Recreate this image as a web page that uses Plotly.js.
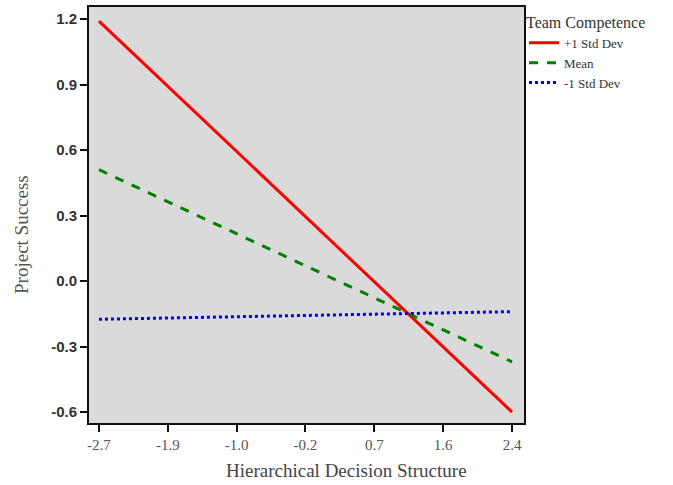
<!DOCTYPE html>
<html>
<head>
<meta charset="utf-8">
<script src="https://cdn.plot.ly/plotly-3.0.1.min.js"></script>
<style>html,body{margin:0;padding:0;background:#fff;}#chart{width:673px;height:485px;}</style>
</head>
<body>
<div id="chart"></div>
<script>
const xEnds = [-2.7, 2.4];
const plusOneSD = [1.19, -0.60];
const meanVals = [0.51, -0.37];
const minusOneSD = [-0.175, -0.14];
const seriesNames = ["+1 Std Dev", "Mean", "-1 Std Dev"];
const xTickVals = [-2.7, -1.85, -1.0, -0.15, 0.7, 1.55, 2.4];
const xTickText = ["-2.7", "-1.9", "-1.0", "-0.2", "0.7", "1.6", "2.4"];
const yTickVals = [-0.6, -0.3, 0.0, 0.3, 0.6, 0.9, 1.2];
const yTickText = ["-0.6", "-0.3", "0.0", "0.3", "0.6", "0.9", "1.2"];
const xTitle = "Hierarchical Decision Structure";
const yTitle = "Project Success";
const legendTitle = "Team Competence";

const serif = "Liberation Serif, Times New Roman, serif";
const traces = [
  {x: xEnds, y: plusOneSD, name: seriesNames[0], mode: "lines", line: {color: "#ff0000", width: 3, dash: "solid"}},
  {x: xEnds, y: meanVals, name: seriesNames[1], mode: "lines", line: {color: "#008000", width: 3, dash: "dash"}},
  {x: xEnds, y: minusOneSD, name: seriesNames[2], mode: "lines", line: {color: "#0000ee", width: 3, dash: "dot"}}
];
const layout = {
  width: 673, height: 485,
  margin: {l: 89, r: 149, t: 7, b: 62},
  paper_bgcolor: "#ffffff",
  plot_bgcolor: "#dadada",
  showlegend: true,
  legend: {
    x: 1.0, xanchor: "left", y: 1.0, yanchor: "top",
    bgcolor: "rgba(0,0,0,0)",
    font: {family: serif, size: 13, color: "#333"},
    title: {text: legendTitle, font: {family: serif, size: 16, color: "#333"}},
    tracegroupgap: 0, itemwidth: 30
  },
  xaxis: {
    range: [-2.823, 2.548],
    tickmode: "array", tickvals: xTickVals, ticktext: xTickText,
    ticks: "outside", ticklen: 7, tickwidth: 2, tickcolor: "#111",
    showline: true, linecolor: "#111", linewidth: 2, mirror: true,
    showgrid: false, zeroline: false,
    tickfont: {family: serif, size: 15, color: "#555"}
  },
  yaxis: {
    range: [-0.65, 1.255],
    tickmode: "array", tickvals: yTickVals, ticktext: yTickText,
    ticks: "outside", ticklen: 7, tickwidth: 2, tickcolor: "#111",
    showline: true, linecolor: "#111", linewidth: 2, mirror: true,
    showgrid: false, zeroline: false,
    tickfont: {family: "Liberation Sans, Arial, sans-serif", size: 15, color: "#333", weight: "bold"}
  },
  annotations: [
    {text: xTitle, xref: "paper", yref: "paper", x: 0.593, y: -0.113, xanchor: "center", yanchor: "middle",
     showarrow: false, font: {family: serif, size: 19, color: "#444"}},
    {text: yTitle, xref: "paper", yref: "paper", x: -0.154, y: 0.452, xanchor: "center", yanchor: "middle",
     textangle: -90, showarrow: false, font: {family: serif, size: 19, color: "#555"}}
  ]
};
Plotly.newPlot("chart", traces, layout, {displayModeBar: false, staticPlot: true});
</script>
</body>
</html>
